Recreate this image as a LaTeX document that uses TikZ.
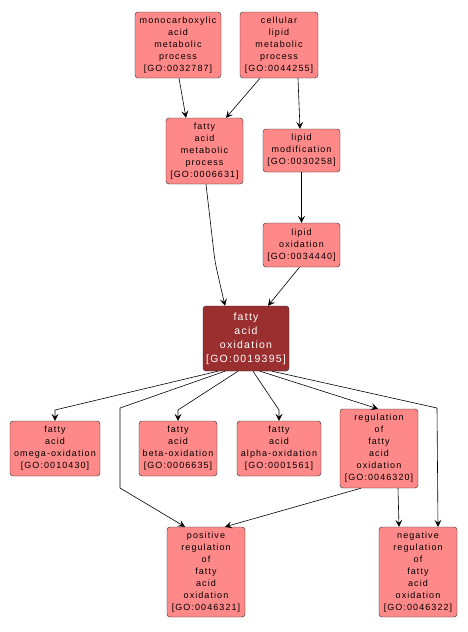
\documentclass[tikz,border=0pt]{standalone}
\usepackage{fontspec}
\newfontfamily\gofont[LetterSpace=12]{Liberation Sans}
\usetikzlibrary{arrows.meta, positioning}

\definecolor{goterm}{RGB}{255,136,136}
\definecolor{gofocus}{RGB}{155,47,47}

\begin{document}
\begin{tikzpicture}[
        x=1pt, y=-1pt,
        term/.style={rectangle, draw=black!85, fill=goterm, thin, rounded corners=3pt, inner sep=0pt, align=center, font=\gofont\fontsize{9}{12}\selectfont},
        focus/.style={term, fill=gofocus, text=white, font=\gofont\fontsize{10.5}{14}\selectfont},
        arrow/.style={-{Stealth[length=7pt, width=7pt, inset=3pt]}, semithick, draw=black}
    ]
    \useasboundingbox (0,0) rectangle (467,632);
    % Nodes
    \node (mono) [term, minimum width=86, minimum height=66] at (178,45) {monocarboxylic\\acid\\metabolic\\process\\{[GO:0032787]}};
    \node (cell) [term, minimum width=78, minimum height=66] at (279,45) {cellular\\lipid\\metabolic\\process\\{[GO:0044255]}};
    \node (fam) [term, minimum width=77, minimum height=66] at (204.5,151) {fatty\\acid\\metabolic\\process\\{[GO:0006631]}};
    \node (lmod) [term, minimum width=77, minimum height=43] at (301.5,150.5) {lipid\\modification\\{[GO:0030258]}};
    \node (lox) [term, minimum width=77, minimum height=44] at (301.5,245) {lipid\\oxidation\\{[GO:0034440]}};
    \node (fao) [focus, minimum width=86, minimum height=65] at (246,338.5) {fatty\\acid\\oxidation\\{[GO:0019395]}};
    \node (omega) [term, minimum width=90, minimum height=55] at (55,448.5) {fatty\\acid\\omega-oxidation\\{[GO:0010430]}};
    \node (beta) [term, minimum width=78, minimum height=55] at (178,448.5) {fatty\\acid\\beta-oxidation\\{[GO:0006635]}};
    \node (alpha) [term, minimum width=84, minimum height=55] at (279,448.5) {fatty\\acid\\alpha-oxidation\\{[GO:0001561]}};
    \node (reg) [term, minimum width=78, minimum height=79] at (379,448.5) {regulation\\of\\fatty\\acid\\oxidation\\{[GO:0046320]}};
    \node (pos) [term, minimum width=78, minimum height=90] at (206,572) {positive\\regulation\\of\\fatty\\acid\\oxidation\\{[GO:0046321]}};
    \node (neg) [term, minimum width=78, minimum height=90] at (418,572) {negative\\regulation\\of\\fatty\\acid\\oxidation\\{[GO:0046322]}};

    % Bend points
    \coordinate (famBend) at (215,262);
    \coordinate (omegaBend) at (55,410);
    \coordinate (posTop) at (120,408);
    \coordinate (posLow) at (120,488);
    \coordinate (betaBend) at (178,410);
    \coordinate (alphaBend) at (279,410);
    \coordinate (negBend) at (437,408);

    % Arrows
    \draw [arrow] ([xshift=1]mono.south) -- ([xshift=-18.5]fam.north);
    \draw [arrow] ([xshift=-19]cell.south) -- ([xshift=21.5]fam.north);
    \draw [arrow] ([xshift=19]cell.south) -- ([xshift=-1.5]lmod.north);
    \draw [arrow] (lmod) -- (lox);
    \draw [arrow, rounded corners=8pt] ([xshift=1.5]fam.south) -- (famBend) -- ([xshift=-21]fao.north);
    \draw [arrow] ([xshift=-2]lox.south) -- ([xshift=22]fao.north);
    \draw [arrow] ([xshift=-28]fao.south) -- (omegaBend) -- (omega.north);
    \draw [arrow] ([xshift=-21]fao.south) -- (posTop) -- (posLow) -- ([xshift=-21]pos.north);
    \draw [arrow] ([xshift=-8]fao.south) -- (betaBend) -- (beta.north);
    \draw [arrow] ([xshift=7]fao.south) -- (alphaBend) -- (alpha.north);
    \draw [arrow] ([xshift=14]fao.south) -- ([xshift=-1]reg.north);
    \draw [arrow] ([xshift=26]fao.south) -- (negBend) -- ([xshift=20]neg.north);
    \draw [arrow] ([xshift=-18]reg.south) -- ([xshift=19]pos.north);
    \draw [arrow] ([xshift=19]reg.south) -- ([xshift=-19]neg.north);
\end{tikzpicture}
\end{document}
